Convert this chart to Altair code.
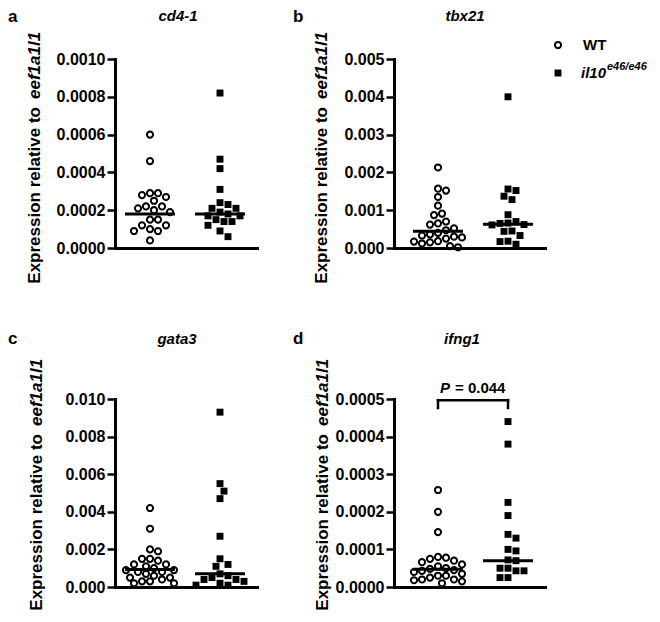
import math
import altair as alt
import pandas as pd

# ---------------- data ----------------
genes = ["cd4-1", "tbx21", "gata3", "ifng1"]
panel_letters = ["a", "b", "c", "d"]
groups = ["WT", "il10"]
group_sup = "e46/e46"
y_title_main = "Expression relative to"
y_title_gene = "eef1a1l1"
p_label = ["P", "= 0.044"]

cd4_wt = [0.00060, 0.00046, 0.00029, 0.00029, 0.00028, 0.00027, 0.00025, 0.00022,
          0.00022, 0.00021, 0.00020, 0.00019, 0.00015, 0.00015, 0.00012, 0.00012,
          0.00010, 0.00009, 0.00009, 0.00004]
cd4_ko = [0.00082, 0.00047, 0.00042, 0.00031, 0.00024, 0.00023, 0.00021, 0.00021,
          0.00019, 0.00018, 0.00017, 0.00017, 0.00015, 0.00014, 0.00014, 0.00012,
          0.00009, 0.00006]
tbx21_wt = [0.00213, 0.00157, 0.00152, 0.00135, 0.00112, 0.00091, 0.00087, 0.00070,
            0.00065, 0.00062, 0.00052, 0.00047, 0.00040, 0.00036, 0.00033, 0.00030,
            0.00028, 0.00025, 0.00018, 0.00017, 0.00015, 0.00012, 0.00005, 0.00002]
tbx21_ko = [0.00400, 0.00156, 0.00152, 0.00137, 0.00128, 0.00088, 0.00070, 0.00066,
            0.00065, 0.00062, 0.00061, 0.00045, 0.00044, 0.00033, 0.00018, 0.00017,
            0.00010]
gata3_wt = [0.0042, 0.0031, 0.0020, 0.0019, 0.0015, 0.0015, 0.0014, 0.0012, 0.0012,
            0.0011, 0.0010, 0.0009, 0.0009, 0.0008, 0.0008, 0.0007, 0.0006, 0.0005,
            0.0005, 0.0004, 0.0003, 0.0003, 0.0002, 0.0002]
gata3_ko = [0.0093, 0.0055, 0.0051, 0.0047, 0.0027, 0.0015, 0.0012, 0.0011, 0.0007,
            0.0006, 0.0005, 0.0004, 0.0004, 0.0003, 0.0002, 0.0001, 0.0001]
ifng1_wt = [0.000258, 0.000200, 0.000146, 0.000080, 0.000078, 0.000075, 0.000070,
            0.000066, 0.000060, 0.000055, 0.000050, 0.000048, 0.000045, 0.000043,
            0.000040, 0.000035, 0.000030, 0.000030, 0.000025, 0.000020, 0.000020,
            0.000018, 0.000015, 0.000010]
ifng1_ko = [0.000440, 0.000380, 0.000225, 0.000190, 0.000140, 0.000130, 0.000100,
            0.000096, 0.000072, 0.000070, 0.000050, 0.000050, 0.000043, 0.000043,
            0.000025, 0.000025]

series = [(cd4_wt, cd4_ko), (tbx21_wt, tbx21_ko), (gata3_wt, gata3_ko), (ifng1_wt, ifng1_ko)]
medians = [(0.00018, 0.00018), (0.00044, 0.00063), (0.00093, 0.00071), (0.000047, 0.00007)]
y_max = [0.0010, 0.005, 0.010, 0.0005]
y_step = [0.0002, 0.001, 0.002, 0.0001]
y_fmt = [".4f", ".3f", ".3f", ".4f"]
bracket_y = [0.000497, 0.000476]

# ---------------- layout / style ----------------
FONT = "Liberation Sans"
PX = 70.0            # pixels between the two group centres
W = [142, 151, 142, 151]
H = [189, 189, 188, 188]
WT_OFF = [35, 44, 35, 44]
LETTER_X = [-107, -101, -107, -101]
TITLE_X = [63, 71, 62, 68]
YT_X = [-80, -72, -78, -71]
YT_GAP = [48, 48, 35, 35]


def swarm(vals, vmax, h, d=8.0, step=4.0, kmax=6):
    placed = []
    offs = [0.0] * len(vals)
    cands = [0]
    for k in range(1, kmax + 1):
        cands += [k, -k]
    order = sorted(range(len(vals)), key=lambda i: -vals[i])
    for i in order:
        y = vals[i] / vmax * h
        best, bestd, bestx = None, -1.0, 0.0
        for k in cands:
            x = k * step
            md = min((math.hypot(x - px, y - py) for px, py in placed), default=1e9)
            if md >= d:
                best = x
                break
            if md > bestd:
                bestd, bestx = md, x
        if best is None:
            best = bestx
        placed.append((best, y))
        offs[i] = best
    return offs


def text_layer(txt, x, y, size=15, italic=False, align="left", baseline="middle", angle=0, dx=0):
    df = pd.DataFrame({"t": [txt]})
    kw = dict(font=FONT, fontSize=size, fontWeight="bold", color="black",
              align=align, baseline=baseline, dx=dx)
    if italic:
        kw["fontStyle"] = "italic"
    if angle:
        kw["angle"] = angle
    return alt.Chart(df).mark_text(**kw).encode(text="t:N", x=x, y=y)


def panel(i):
    wt, ko = series[i]
    vmax = y_max[i]
    rows = []
    for gi, vals in enumerate((wt, ko)):
        offs = swarm(vals, vmax, H[i])
        for v, o in zip(vals, offs):
            rows.append({"group": groups[gi], "value": v, "x": gi + o / PX})
    df = pd.DataFrame(rows)
    x0 = -WT_OFF[i] / PX
    xscale = alt.Scale(domain=[x0, x0 + W[i] / PX], nice=False, zero=False)
    n = int(round(vmax / y_step[i]))
    ticks = [round(k * y_step[i], 6) for k in range(n + 1)]
    yscale = alt.Scale(domain=[0, vmax], nice=False, zero=True)
    xaxis = alt.Axis(title=None, labels=False, ticks=False, grid=False, domain=True,
                     domainWidth=3, domainColor="black", domainCap="square")
    yaxis = alt.Axis(title=None, values=ticks, format=y_fmt[i], grid=False,
                     domainWidth=3, domainColor="black", domainCap="square",
                     tickWidth=2.5, tickSize=8, tickColor="black",
                     labelFont=FONT, labelFontSize=16, labelFontWeight="bold",
                     labelColor="black", labelPadding=2)

    X = alt.X("x:Q", scale=xscale, axis=xaxis)
    Y = alt.Y("value:Q", scale=yscale, axis=yaxis)

    wt_pts = alt.Chart(df[df.group == groups[0]]).mark_point(
        shape="circle", filled=False, stroke="black", strokeWidth=2, size=38, opacity=1
    ).encode(x=X, y=Y)
    ko_pts = alt.Chart(df[df.group == groups[1]]).mark_point(
        shape="square", filled=True, fill="black", size=48, opacity=1, strokeWidth=0
    ).encode(x=X, y=Y)

    med = pd.DataFrame({"x1": [0 - 25 / PX, 1 - 25 / PX], "x2": [0 + 25 / PX, 1 + 25 / PX],
                        "m": list(medians[i])})
    med_layer = alt.Chart(med).mark_rule(color="black", strokeWidth=3).encode(
        x=alt.X("x1:Q", scale=xscale, axis=xaxis), x2="x2:Q",
        y=alt.Y("m:Q", scale=yscale, axis=yaxis))

    layers = [med_layer, wt_pts, ko_pts]

    if i < 2:
        ly, lb = -50, "top"
    else:
        ly, lb = -55, "alphabetic"
    layers.append(text_layer(panel_letters[i], alt.value(LETTER_X[i]), alt.value(ly),
                             size=17, baseline=lb))
    layers.append(text_layer(genes[i], alt.value(TITLE_X[i]), alt.value(ly), size=15,
                             italic=True, align="center", baseline=lb))
    layers.append(text_layer(y_title_main, alt.value(YT_X[i]), alt.value(YT_GAP[i]),
                             size=17, align="right", angle=270))
    layers.append(text_layer(y_title_gene, alt.value(YT_X[i]), alt.value(YT_GAP[i] - 8),
                             size=17, italic=True, align="left", angle=270))

    if i == 1:
        leg = pd.DataFrame({"k": [0]})
        layers.append(alt.Chart(leg).mark_point(shape="circle", filled=False, stroke="black",
                                                strokeWidth=2, size=38, opacity=1)
                      .encode(x=alt.value(164), y=alt.value(-14)))
        layers.append(alt.Chart(leg).mark_point(shape="square", filled=True, fill="black",
                                                size=48, opacity=1, strokeWidth=0)
                      .encode(x=alt.value(164), y=alt.value(14)))
        layers.append(text_layer(groups[0], alt.value(189), alt.value(-14), size=15))
        layers.append(text_layer(groups[1], alt.value(187), alt.value(14), size=15, italic=True))
        layers.append(text_layer(group_sup, alt.value(213), alt.value(8), size=11, italic=True))

    if i == 3:
        br = pd.DataFrame({"xa": [0, 0, 1], "xb": [1, 0, 1],
                           "ya": [bracket_y[0], bracket_y[0], bracket_y[0]],
                           "yb": [bracket_y[0], bracket_y[1], bracket_y[1]]})
        layers.append(alt.Chart(br).mark_rule(color="black", strokeWidth=2.5, strokeCap="square")
                      .encode(x=alt.X("xa:Q", scale=xscale, axis=xaxis), x2="xb:Q",
                              y=alt.Y("ya:Q", scale=yscale, axis=yaxis), y2="yb:Q"))
        pdf = pd.DataFrame({"t": [p_label[0]], "x": [0.0]})
        layers.append(alt.Chart(pdf).mark_text(font=FONT, fontSize=15, fontWeight="bold",
                                               fontStyle="italic", align="left",
                                               baseline="alphabetic", dx=2, color="black")
                      .encode(text="t:N", x=alt.X("x:Q", scale=xscale, axis=xaxis),
                              y=alt.value(-6)))
        pdf2 = pd.DataFrame({"t": [p_label[1]], "x": [0.0]})
        layers.append(alt.Chart(pdf2).mark_text(font=FONT, fontSize=15, fontWeight="bold",
                                                align="left", baseline="alphabetic", dx=17,
                                                color="black")
                      .encode(text="t:N", x=alt.X("x:Q", scale=xscale, axis=xaxis),
                              y=alt.value(-6)))

    return alt.layer(*layers).properties(width=W[i], height=H[i])


chart = alt.concat(
    panel(0), panel(1), panel(2), panel(3),
    columns=2, spacing={"row": 151, "column": 137}, bounds="flush"
).properties(padding=0).configure_view(stroke=None)

chart.save("out.html", embed_options={"renderer": "svg", "actions": False})
